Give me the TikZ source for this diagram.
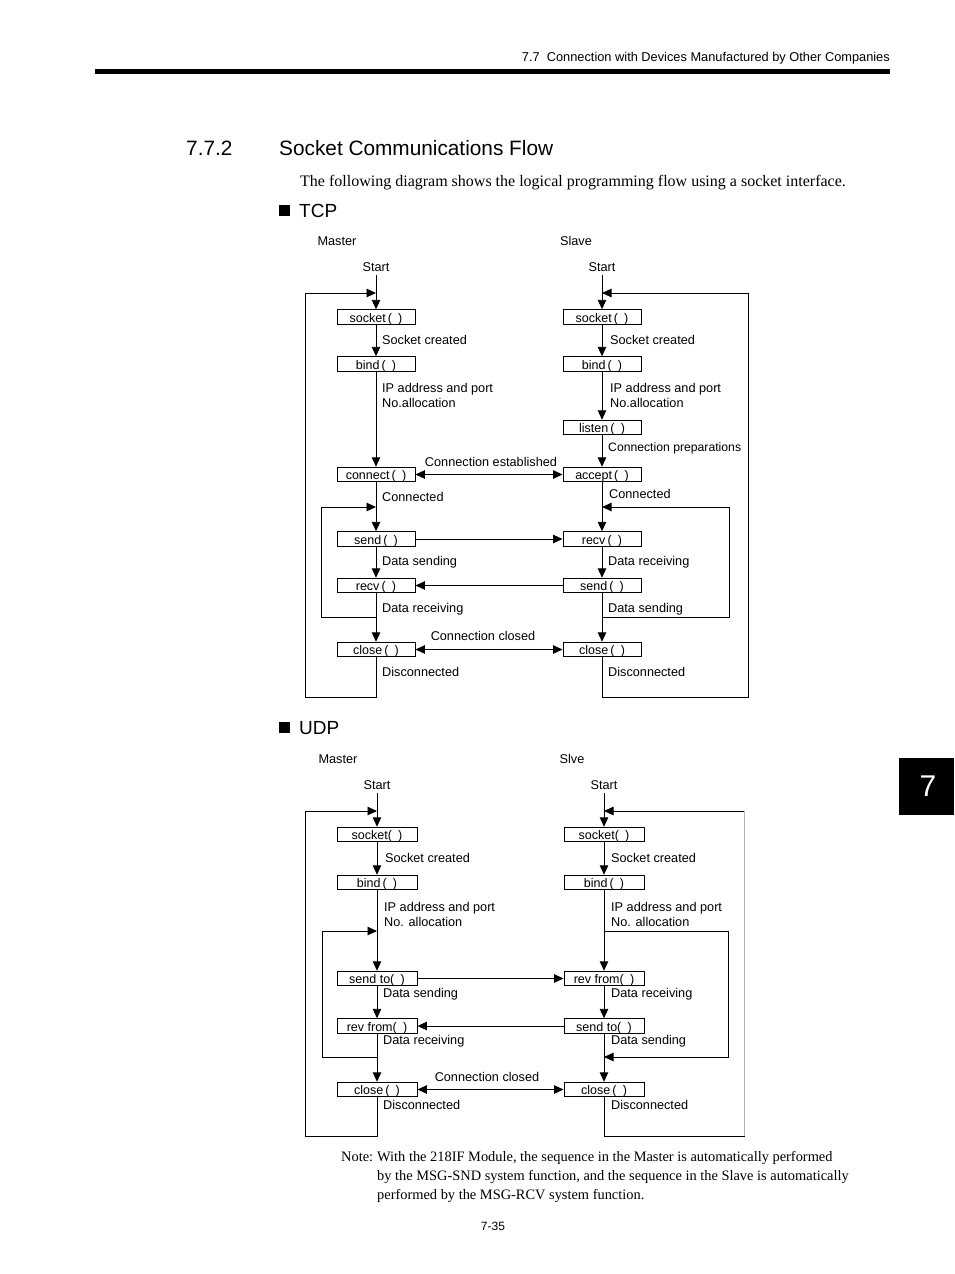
\documentclass[tikz,border=0pt]{standalone}
\usepackage{fontspec}
\setmainfont{Liberation Serif}
\newfontfamily\arialf{Liberation Sans}
\usetikzlibrary{arrows.meta}
\tikzset{
  ln/.style={line width=0.95pt},
  arr/.style={ln,-{Triangle[length=9.5pt,width=8.5pt]}},
  darr/.style={ln,{Triangle[length=9.5pt,width=8.5pt]}-{Triangle[length=9.5pt,width=8.5pt]}},
  fbox/.style={draw,line width=0.95pt,minimum width=78pt,minimum height=14.5pt,inner sep=0pt,
    text height=10pt,text depth=0pt,font=\arialf\fontsize{12.5}{12}\selectfont},
  ubox/.style={fbox,minimum width=80pt},
  lbl/.style={anchor=west,inner sep=0pt,text height=9pt,text depth=0pt,font=\arialf\fontsize{12.7}{13}\selectfont},
  clbl/.style={lbl,anchor=center},
  plain/.style={anchor=west,inner sep=0pt,text height=9pt,text depth=0pt},
}
\begin{document}
\begin{tikzpicture}[x=1pt,y=-1pt]
\useasboundingbox (0,0) rectangle (954,1274);
\fill[white] (0,0) rectangle (954,1274);

% ---------- page header ----------
\node[anchor=east,inner sep=0pt,font=\arialf\fontsize{12.8}{13}\selectfont] (hdr) at (890,58)
  {7.7\ \ Connection with Devices Manufactured by Other Companies};
\fill (95,69) rectangle (890,74);
\node[plain,text height=14pt,font=\arialf\fontsize{20.8}{21}\selectfont] (secnum) at (186,148) {7.7.2};
\node[plain,text height=14pt,font=\arialf\fontsize{20.8}{21}\selectfont] (sectitle) at (279,148) {Socket Communications Flow};
\node[plain,text height=10pt,font=\fontsize{16}{16}\selectfont] (intro) at (300,181)
  {The following diagram shows the logical programming flow using a socket interface.};

% ---------- TCP ----------
\fill (279,205) rectangle (290,216);
\node[plain,text height=13.5pt,font=\arialf\fontsize{19}{19}\selectfont] (tcp) at (299,210.5) {TCP};
\node[clbl] (tmaster) at (337,241) {Master};
\node[clbl] (tslave) at (576,241) {Slave};
\node[clbl] (tmstart) at (376,267) {Start};
\node[clbl] (tsstart) at (602,267) {Start};

\node[fbox] (tmsock) at (376,317) {socket\,(\enspace)};
\node[fbox] (tmbind) at (376,364) {bind\,(\enspace)};
\node[fbox] (tmconn) at (376,474.5) {connect\,(\enspace)};
\node[fbox] (tmsend) at (376,539) {send\,(\enspace)};
\node[fbox] (tmrecv) at (376,585.5) {recv\,(\enspace)};
\node[fbox] (tmclose) at (376,649.5) {close\,(\enspace)};

\node[fbox] (tssock) at (602,317) {socket\,(\enspace)};
\node[fbox] (tsbind) at (602,364) {bind\,(\enspace)};
\node[fbox] (tslisten) at (602,427.5) {listen\,(\enspace)};
\node[fbox] (tsacc) at (602,474.5) {accept\,(\enspace)};
\node[fbox] (tsrecv) at (602,539) {recv\,(\enspace)};
\node[fbox] (tssend) at (602,585.5) {send\,(\enspace)};
\node[fbox] (tsclose) at (602,649.5) {close\,(\enspace)};

\draw[arr,shorten <=3pt] (tmstart) -- (tmsock);
\draw[arr] (tmsock) -- (tmbind);
\draw[arr] (tmbind) -- (tmconn);
\draw[arr] (tmconn) -- (tmsend);
\draw[arr] (tmsend) -- (tmrecv);
\draw[arr] (tmrecv) -- (tmclose);

\draw[arr,shorten <=3pt] (tsstart) -- (tssock);
\draw[arr] (tssock) -- (tsbind);
\draw[arr] (tsbind) -- (tslisten);
\draw[arr] (tslisten) -- (tsacc);
\draw[arr] (tsacc) -- (tsrecv);
\draw[arr] (tsrecv) -- (tssend);
\draw[arr] (tssend) -- (tsclose);

\coordinate (tmtop) at (376,293);
\coordinate (tmobl) at (305,697);
\draw[arr] (tmclose.south) |- (tmobl) |- (tmtop);
\coordinate (tmib) at (376,617);
\coordinate (tmic) at (321,507);
\coordinate (tmit) at (376,507);
\draw[arr] (tmib) -| (tmic) -- (tmit);

\coordinate (tstop) at (602,293);
\coordinate (tsobr) at (748,697);
\draw[arr] (tsclose.south) |- (tsobr) |- (tstop);
\coordinate (tsib) at (602,617);
\coordinate (tsic) at (729,507);
\coordinate (tsit) at (602,507);
\draw[arr] (tsib) -| (tsic) -- (tsit);

\draw[darr] (tmconn) -- (tsacc);
\draw[arr] (tmsend) -- (tsrecv);
\draw[arr] (tssend) -- (tmrecv);
\draw[darr] (tmclose) -- (tsclose);

\node[lbl] (tml1) at (382,340) {Socket created};
\node[lbl] (tml2) at (382,388) {IP address and port};
\node[lbl] (tml3) at (382,403) {No.allocation};
\node[lbl] (tml4) at (382,497) {Connected};
\node[lbl] (tml5) at (382,561) {Data sending};
\node[lbl] (tml6) at (382,608) {Data receiving};
\node[lbl] (tml7) at (382,672) {Disconnected};

\node[lbl] (tsl1) at (610,340) {Socket created};
\node[lbl] (tsl2) at (610,388) {IP address and port};
\node[lbl] (tsl3) at (610,403) {No.allocation};
\node[lbl,font=\arialf\fontsize{12.2}{13}\selectfont] (tsl4) at (608,447) {Connection preparations};
\node[lbl] (tsl5) at (609,494) {Connected};
\node[lbl] (tsl6) at (608,561) {Data receiving};
\node[lbl] (tsl7) at (608,608) {Data sending};
\node[lbl] (tsl8) at (608,672) {Disconnected};

\node[clbl] (tcest) at (491,462) {Connection established};
\node[clbl] (tccl) at (483,636) {Connection closed};

% ---------- UDP ----------
\fill (279,722) rectangle (290,733);
\node[plain,text height=13.5pt,font=\arialf\fontsize{19}{19}\selectfont] (udp) at (299,727.5) {UDP};
\node[clbl] (umaster) at (338,759) {Master};
\node[clbl] (uslave) at (572,759) {Slve};
\node[clbl] (umstart) at (377,785) {Start};
\node[clbl] (usstart) at (604,785) {Start};

\node[ubox] (umsock) at (377,834.5) {socket(\enspace)};
\node[ubox] (umbind) at (377,882.5) {bind\,(\enspace)};
\node[ubox] (umsend) at (377,978.5) {send to(\enspace)};
\node[ubox] (umrecv) at (377,1026) {rev from(\enspace)};
\node[ubox] (umclose) at (377,1089.5) {close\,(\enspace)};

\node[ubox] (ussock) at (604,834.5) {socket(\enspace)};
\node[ubox] (usbind) at (604,882.5) {bind\,(\enspace)};
\node[ubox] (usrecv) at (604,978.5) {rev from(\enspace)};
\node[ubox] (ussend) at (604,1026) {send to(\enspace)};
\node[ubox] (usclose) at (604,1089.5) {close\,(\enspace)};

\draw[arr,shorten <=3pt] (umstart) -- (umsock);
\draw[arr] (umsock) -- (umbind);
\draw[arr] (umbind) -- (umsend);
\draw[arr] (umsend) -- (umrecv);
\draw[arr] (umrecv) -- (umclose);

\draw[arr,shorten <=3pt] (usstart) -- (ussock);
\draw[arr] (ussock) -- (usbind);
\draw[arr] (usbind) -- (usrecv);
\draw[arr] (usrecv) -- (ussend);
\draw[arr] (ussend) -- (usclose);

\coordinate (umtop) at (377,811);
\coordinate (umobl) at (305,1136);
\draw[arr] (umclose.south) |- (umobl) |- (umtop);
\coordinate (umib) at (377,1057);
\coordinate (umic) at (322,931);
\coordinate (umit) at (377,931);
\draw[arr] (umib) -| (umic) -- (umit);

\coordinate (ustop) at (604,811);
\coordinate (usobr) at (744,1136);
\coordinate (usotr) at (744,811);
\draw[arr] (usclose.south) |- (usobr) |- (ustop);
\draw[line width=0.95pt,gray!60] (usotr) -- (usobr);
\coordinate (usit) at (604,931);
\coordinate (usic) at (728,1057);
\coordinate (usib) at (604,1057);
\draw[arr] (usit) -| (usic) -- (usib);

\draw[arr] (umsend) -- (usrecv);
\draw[arr] (ussend) -- (umrecv);
\draw[darr] (umclose) -- (usclose);

\node[lbl] (uml1) at (385,858) {Socket created};
\node[lbl] (uml2) at (384,907) {IP address and port};
\node[lbl] (uml3) at (384,922) {No. allocation};
\node[lbl] (uml4) at (383,993) {Data sending};
\node[lbl] (uml5) at (383,1040) {Data receiving};
\node[lbl] (uml6) at (383,1105) {Disconnected};

\node[lbl] (usl1) at (611,858) {Socket created};
\node[lbl] (usl2) at (611,907) {IP address and port};
\node[lbl] (usl3) at (611,922) {No. allocation};
\node[lbl] (usl4) at (611,993) {Data receiving};
\node[lbl] (usl5) at (611,1040) {Data sending};
\node[lbl] (usl6) at (611,1105) {Disconnected};

\node[clbl] (ucl) at (487,1077) {Connection closed};

% ---------- note, page number, tab ----------
\node[plain,font=\fontsize{14.4}{15}\selectfont] (note0) at (341,1157) {Note:};
\node[plain,font=\fontsize{14.4}{15}\selectfont] (note1) at (377,1157) {With the 218IF Module, the sequence in the Master is automatically performed};
\node[plain,font=\fontsize{14.4}{15}\selectfont] (note2) at (377,1176) {by the MSG-SND system function, and the sequence in the Slave is automatically};
\node[plain,font=\fontsize{14.4}{15}\selectfont] (note3) at (377,1195) {performed by the MSG-RCV system function.};
\node[clbl,font=\arialf\fontsize{12}{12}\selectfont] (pnum) at (493,1226) {7-35};
\fill (899,758) rectangle (954,815);
\node[white,inner sep=0pt,font=\arialf\fontsize{30}{30}\selectfont] (tab) at (928,786) {7};
\end{tikzpicture}
\end{document}
